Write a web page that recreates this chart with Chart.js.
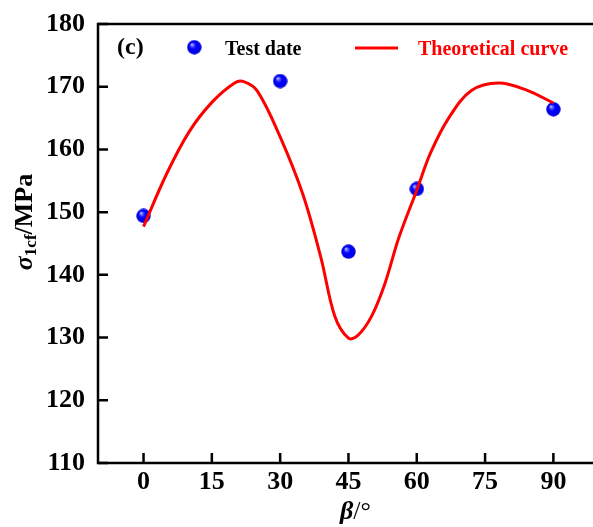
<!DOCTYPE html>
<html>
<head>
<meta charset="utf-8">
<script src="https://cdn.jsdelivr.net/npm/chart.js@4.4.1/dist/chart.umd.min.js"></script>
<style>
  html, body { margin: 0; padding: 0; background: #fff; overflow: hidden; }
</style>
</head>
<body>
<canvas id="chart" width="593" height="527"></canvas>
<script>
// test data
const testAngles = [0, 30, 45, 60, 90];
const testStrength = [149.4, 170.9, 143.7, 153.7, 166.4];

// theoretical curve
const curveAngles = [0, 5, 10, 15, 20, 22, 25, 30, 35, 39, 42, 45, 47, 50, 53, 56, 60, 63, 67, 72, 78, 84, 90];
const curveStrength = [147.7, 156, 162.8, 167.5, 170.6, 170.8, 169.3, 162, 152.8, 142.6, 133.4, 129.9, 130.3, 133.3, 138.6, 145.8, 153.5, 159.4, 165, 169.4, 170.6, 169.5, 167.4];

const xTicks = [0, 15, 30, 45, 60, 75, 90];
const yTicks = [110, 120, 130, 140, 150, 160, 170, 180];

const panelTag = "(c)";
const testLabel = "Test date";
const curveLabel = "Theoretical curve";

const SERIF = "'Liberation Serif', 'Times New Roman', serif";

// blue shaded ball used for the test points
function makeBall(r) {
    const c = document.createElement("canvas");
    const s = Math.ceil(r * 2);
    c.width = s;
    c.height = s;
    const g = c.getContext("2d");
    const grad = g.createRadialGradient(r * 0.65, r * 0.6, 0, r, r, r);
    grad.addColorStop(0, "#e8e8ff");
    grad.addColorStop(0.18, "#6a6aff");
    grad.addColorStop(0.45, "#0000ff");
    grad.addColorStop(1, "#0000d8");
    g.fillStyle = grad;
    g.beginPath();
    g.arc(r, r, r - 0.3, 0, Math.PI * 2);
    g.fill();
    return c;
}

const ball = makeBall(7.5);

const framePlugin = {
    id: "frame",
    afterDraw(chart) {
        const ctx = chart.ctx;
        const a = chart.chartArea;
        const xs = chart.scales.x;
        const ys = chart.scales.y;
        ctx.save();
        ctx.strokeStyle = "#000";
        ctx.lineWidth = 2.5;
        // frame runs off the right edge of the picture
        ctx.beginPath();
        ctx.moveTo(a.right + 5, a.top);
        ctx.lineTo(a.left, a.top);
        ctx.lineTo(a.left, a.bottom);
        ctx.lineTo(a.right + 5, a.bottom);
        ctx.stroke();

        // inward ticks, bottom and left only
        ctx.beginPath();
        xTicks.forEach(v => {
            const px = xs.getPixelForValue(v);
            ctx.moveTo(px, a.bottom);
            ctx.lineTo(px, a.bottom - 10);
        });
        yTicks.forEach(v => {
            const py = ys.getPixelForValue(v);
            ctx.moveTo(a.left, py);
            ctx.lineTo(a.left + 10, py);
        });
        ctx.stroke();

        // legend
        ctx.fillStyle = "#000";
        ctx.textBaseline = "alphabetic";
        ctx.font = "bold 24px " + SERIF;
        ctx.fillText(panelTag, 117, 54);

        ctx.drawImage(ball, 194.3 - 7.5, 47.3 - 7.5);
        ctx.font = "bold 20px " + SERIF;
        ctx.fillText(chart.data.datasets[1].label, 225, 54.5);

        ctx.strokeStyle = "#ff0000";
        ctx.lineWidth = 3;
        ctx.beginPath();
        ctx.moveTo(355, 48);
        ctx.lineTo(398, 48);
        ctx.stroke();
        ctx.fillStyle = "#ff0000";
        ctx.fillText(chart.data.datasets[0].label, 418, 54.5);

        // y title: sigma_1cf / MPa
        ctx.fillStyle = "#000";
        const f1 = "italic bold 26px " + SERIF;
        const f2 = "bold 17px " + SERIF;
        const f3 = "bold 26px " + SERIF;
        ctx.font = f1; const w1 = ctx.measureText("\u03c3").width;
        ctx.font = f2; const w2 = ctx.measureText("1cf").width;
        ctx.font = f3; const w3 = ctx.measureText("/MPa").width;
        const total = w1 + w2 + w3;
        ctx.save();
        ctx.translate(32, 222 + total / 2);
        ctx.rotate(-Math.PI / 2);
        ctx.font = f1; ctx.fillText("\u03c3", 0, 0);
        ctx.font = f2; ctx.fillText("1cf", w1, 4);
        ctx.font = f3; ctx.fillText("/MPa", w1 + w2, 0);
        ctx.restore();

        // x title: beta / degree
        ctx.font = "italic bold 26px " + SERIF;
        ctx.fillText("\u03b2", 340, 519);
        const wb = ctx.measureText("\u03b2").width;
        ctx.font = "26px " + SERIF;
        ctx.fillText("/\u00b0", 340 + wb, 519);
        ctx.restore();
    }
};

const tickFont = { family: SERIF, size: 26, weight: "bold" };

const chart = new Chart(document.getElementById("chart"), {
    type: "scatter",
    data: {
        datasets: [
            {
                label: curveLabel,
                type: "line",
                data: curveAngles.map((x, i) => ({ x: x, y: curveStrength[i] })),
                borderColor: "#ff0000",
                borderWidth: 3,
                pointRadius: 0,
                fill: false,
                tension: 0.35,
                order: 0
            },
            {
                label: testLabel,
                data: testAngles.map((x, i) => ({ x: x, y: testStrength[i] })),
                pointStyle: ball,
                pointRadius: 7.5,
                order: 1
            }
        ]
    },
    options: {
        responsive: false,
        animation: false,
        layout: { autoPadding: false, padding: { top: 24, right: 0, left: 0, bottom: 0 } },
        plugins: { legend: { display: false }, tooltip: { enabled: false } },
        scales: {
            x: {
                type: "linear",
                min: -10,
                max: 98.7,
                afterBuildTicks: s => { s.ticks = xTicks.map(v => ({ value: v })); },
                afterFit: s => { s.height = 64; s.paddingLeft = 0; s.paddingRight = 0; },
                grid: { display: false, drawTicks: false },
                border: { display: false },
                ticks: { font: tickFont, color: "#000", padding: 4, maxRotation: 0 }
            },
            y: {
                min: 110,
                max: 180,
                afterBuildTicks: s => { s.ticks = yTicks.map(v => ({ value: v })); },
                afterFit: s => { s.width = 98; s.paddingTop = 0; s.paddingBottom = 0; },
                grid: { display: false, drawTicks: false },
                border: { display: false },
                ticks: { font: tickFont, color: "#000", padding: 13 }
            }
        }
    },
    plugins: [framePlugin]
});
</script>
</body>
</html>
